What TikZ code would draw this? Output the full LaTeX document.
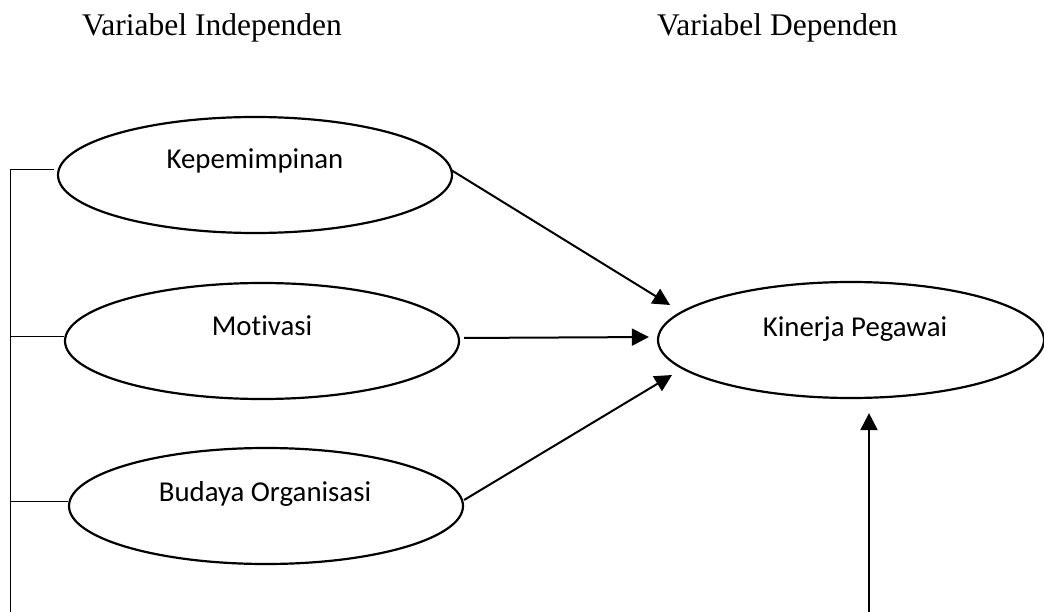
\documentclass[tikz,border=0pt]{standalone}
\usepackage{fontspec}
\setmainfont{Liberation Serif}
\newfontfamily\calib[Ligatures={NoCommon}]{Carlito}
\usetikzlibrary{arrows.meta,calc,shapes.geometric}
\tikzset{
  ell/.style={draw,ellipse,line width=2.2pt,minimum width=394pt,minimum height=116pt,inner sep=0pt},
  lbl/.style={anchor=base,inner sep=0pt,font=\calib\fontsize{28.8pt}{30pt}\selectfont},
  ttl/.style={anchor=base west,inner sep=0pt,font=\fontsize{31.5pt}{34pt}\selectfont},
  arr/.style={line width=2pt,-{Triangle[length=17pt,width=17pt]}},
  br/.style={line width=1pt}
}
\begin{document}
\begin{tikzpicture}[x=1pt,y=-1pt]
\useasboundingbox (0,0) rectangle (1044,612);
\node[ttl] (t1) at (82,36) {Variabel Independen};
\node[ttl] (t2) at (657,36) {Variabel Dependen};
\node[ell] (kep) at (255,175) {};
\node[ell] (mot) at (262,341) {};
\node[ell] (bud) at (266,506) {};
\node[ell,minimum width=386pt] (kin) at (851,340) {};
\node[lbl] (kepl) at (255,169) {Kepemimpinan};
\node[lbl] (motl) at (262,335) {Motivasi};
\node[lbl] (budl) at (265,501) {Budaya Organisasi};
\node[lbl] (kinl) at (855,336) {Kinerja Pegawai};
% arrow tips
\coordinate (tip1) at (670,305);
\coordinate (tip3) at (672,375);
\coordinate (vbot) at (869,612);
\draw[arr] ($(kep.east)+(-2,-5)$) -- (tip1);
\draw[arr,shorten <=4pt,shorten >=8pt] ($(mot.east)+(0,-3)$) -- ($(kin.west)+(0,-3)$);
\draw[arr] ($(bud.east)+(0,-6)$) -- (tip3);
\draw[arr,shorten >=14pt] (vbot) -- (vbot |- kin.south);
% bracket
\coordinate (brbot) at (10,612);
\path (kep.west) ++(-3,-5) coordinate (s1);
\path (mot.west) ++(0,-5) coordinate (s2);
\path (bud.west) ++(0,-5) coordinate (s3);
\draw[br] (s1) -| (brbot);
\draw[br] (s2) -- (s2 -| brbot);
\draw[br] (s3) -- (s3 -| brbot);
\end{tikzpicture}
\end{document}
